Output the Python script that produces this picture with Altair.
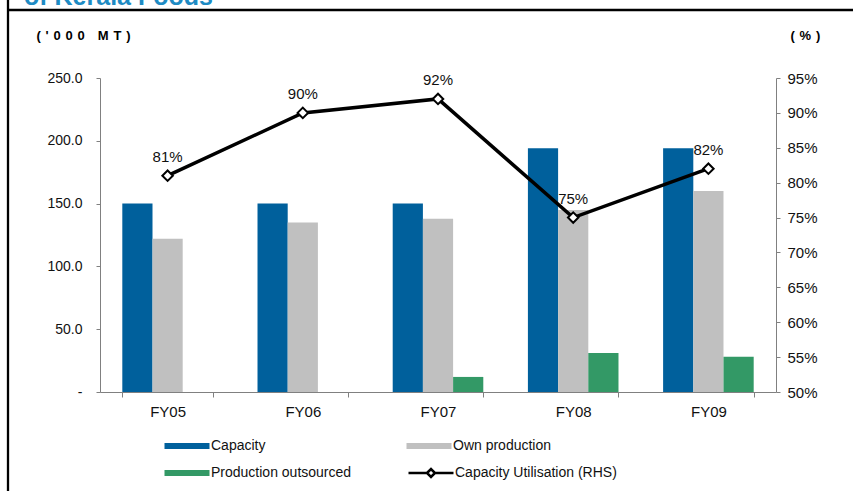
import altair as alt
import pandas as pd

# Production figures, '000 MT
years = ["FY05", "FY06", "FY07", "FY08", "FY09"]
capacity = [150, 150, 150, 194, 194]
own_production = [122, 135, 138, 145, 160]
outsourced = [0, 0, 12, 31, 28]
# Capacity utilisation, %
utilisation = [81, 90, 92, 75, 82]

series_names = ["Capacity", "Own production", "Production outsourced"]
series_colors = {"Capacity": "#00609C", "Own production": "#C0C0C0",
                 "Production outsourced": "#339966"}
# legend grid fills column by column
legend_order = ["Capacity", "Production outsourced", "Own production"]
line_name = "Capacity Utilisation (RHS)"

FONT = "Liberation Sans"


def spaced(s):
    return "\u2009\u2006".join(s)


bars_df = pd.DataFrame(
    [(y, name, v)
     for y, c, o, s in zip(years, capacity, own_production, outsourced)
     for name, v in zip(series_names, (c, o, s))],
    columns=["year", "series", "value"],
)
util_df = pd.DataFrame({"year": years, "util": utilisation, "series": [line_name] * len(years)})

x_scale = alt.Scale(paddingInner=0.33, paddingOuter=0.165)

bars = alt.Chart(bars_df).mark_bar().encode(
    x=alt.X("year:N", sort=years, scale=x_scale,
            axis=alt.Axis(title=None, labelAngle=0, tickBand="extent", tickSize=5,
                          labelPadding=7, labelFontSize=15)),
    xOffset=alt.XOffset("series:N", sort=series_names,
                        scale=alt.Scale(domain=series_names, paddingInner=0, paddingOuter=0)),
    y=alt.Y("value:Q",
            scale=alt.Scale(domain=[0, 250], nice=False),
            axis=alt.Axis(values=[0, 50, 100, 150, 200, 250],
                          labelExpr="datum.value == 0 ? '-\u00a0\u00a0\u00a0\u00a0\u00a0' : format(datum.value, '.1f')",
                          tickSize=4, labelPadding=14, orient="left",
                          title=spaced("('000 MT)"), titleAngle=0, titleX=-64, titleY=-43,
                          titleAlign="left", titleBaseline="middle",
                          titleFontWeight="bold", titleFontSize=13, titleFont=FONT)),
    fill=alt.Fill("series:N",
                  scale=alt.Scale(domain=legend_order,
                                  range=[series_colors[s] for s in legend_order]),
                  legend=alt.Legend(
                      orient="none", legendX=80, legendY=361, columns=2, title=None,
                      symbolType="M-4.5,-0.6L4.5,-0.6L4.5,0.6L-4.5,0.6Z", symbolSize=100,
                      symbolStrokeWidth=0, symbolOpacity=1,
                      labelFont=FONT, labelFontSize=14, labelColor="#111111",
                      labelOffset=17, labelLimit=0, columnPadding=54, rowPadding=13,
                      padding=0)),
)

util_y = alt.Y("util:Q",
               scale=alt.Scale(domain=[50, 95], nice=False, zero=False),
               axis=alt.Axis(values=[50, 55, 60, 65, 70, 75, 80, 85, 90, 95],
                             labelExpr="datum.value + '%'", tickSize=4, labelPadding=7,
                             orient="right", labelFontSize=15,
                             title=spaced("(%)"), titleAngle=0, titleX=14, titleY=-43,
                             titleAlign="left", titleBaseline="middle",
                             titleFontWeight="bold", titleFontSize=13, titleFont=FONT))
util_x = alt.X("year:N", sort=years, scale=x_scale, axis=alt.Axis(title=None))

line = alt.Chart(util_df).mark_line(strokeWidth=3.5).encode(
    x=util_x,
    y=util_y,
    stroke=alt.Stroke("series:N",
                      scale=alt.Scale(domain=[line_name], range=["black"]),
                      legend=alt.Legend(
                          orient="none", legendX=324, legendY=388, title=None,
                          symbolType="M-4.5,0L-0.8,0M0.8,0L4.5,0M-0.8,0L0,-0.8L0.8,0L0,0.8Z",
                          symbolSize=100, symbolStrokeWidth=2.5, symbolFillColor="white",
                          labelFont=FONT, labelFontSize=14, labelColor="#111111",
                          labelOffset=17, labelLimit=0, padding=0)),
)

points = alt.Chart(util_df).mark_point(
    shape="diamond", size=110, filled=True, fill="white", stroke="black",
    strokeWidth=2, opacity=1,
).encode(x=util_x, y=util_y)

labels = alt.Chart(util_df).transform_calculate(
    label="datum.util + '%'"
).mark_text(dy=-19, fontSize=15, font=FONT, color="#111111").encode(
    x=util_x, y=util_y, text="label:N"
)

right_side = alt.layer(line, points, labels)

# Page frame and the heading running off the top edge
frame_df = pd.DataFrame({"k": [0]})
left_edge = alt.Chart(frame_df).mark_rule(color="black", strokeWidth=2.3).encode(
    x=alt.value(-92), y=alt.value(-78), y2=alt.value(413))
top_edge = alt.Chart(frame_df).mark_rule(color="black", strokeWidth=2.3).encode(
    x=alt.value(-92), x2=alt.value(777), y=alt.value(-68))
heading = alt.Chart(frame_df).mark_text(
    text="of Kerala Foods", font=FONT, fontSize=25, fontWeight="bold",
    color="#1E8BC3", align="left", baseline="alphabetic",
).encode(x=alt.value(-76), y=alt.value(-73))

chart = alt.layer(bars, right_side, left_edge, top_edge, heading).resolve_scale(
    y="independent"
).properties(
    width=676, height=314,
    padding={"left": 100, "top": 78, "right": 77, "bottom": 99},
    autosize=alt.AutoSizeParams(type="none"),
    background="white",
).configure_axis(
    domainColor="#808080", tickColor="#808080", grid=False,
    labelFont=FONT, labelFontSize=14, labelColor="#111111",
).configure_view(stroke=None)

chart.save("out.html", embed_options={"renderer": "svg", "actions": False})
